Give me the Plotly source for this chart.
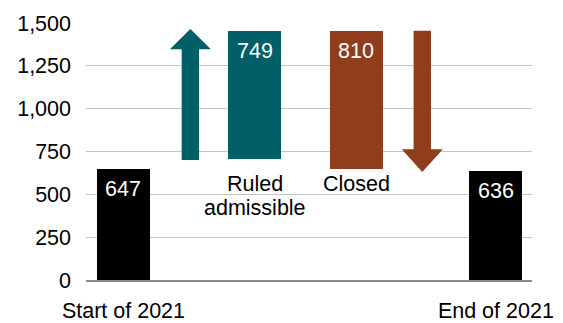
import plotly.graph_objects as go

# Case flow over 2021: opening stock, inflow, outflow, closing stock
categories = ["Start of 2021", "Ruled admissible", "Closed", "End of 2021"]
values = [647, 749, 810, 636]
bases = [0, 706, 645, 0]
y_ticks = [0, 250, 500, 750, 1000, 1250, 1500]

# Layout: horizontal placement on a 0-100 axis, styling
bar_x = [8.4, 37.8, 60.6, 91.9]
bar_w = 11.9
arrow_x = [23.4, 75.4]          # up arrow (inflow), down arrow (outflow)
colors = ["#000000", "#005f67", "#8f3d1d", "#000000"]
FONT = "Liberation Sans, Arial, Helvetica, sans-serif"
FS = 21.5

fig = go.Figure()
fig.add_trace(go.Bar(
    x=bar_x, y=values, base=bases, width=bar_w,
    marker=dict(color=colors, line=dict(width=0)),
    hoverinfo="skip", showlegend=False,
))

# value labels inside the top of each bar
annotations = []
for xi, v, b in zip(bar_x, values, bases):
    annotations.append(dict(
        x=xi, y=b + v, xref="x", yref="y", text=str(v), showarrow=False,
        yanchor="middle", yshift=-20, font=dict(family=FONT, size=FS, color="white"),
    ))

# category labels beneath the floating bars
annotations += [
    dict(x=bar_x[1], y=bases[1], text="Ruled", yshift=-25),
    dict(x=bar_x[1], y=bases[1], text="admissible", yshift=-49),
    dict(x=bar_x[2], y=bases[2], text="Closed", yshift=-15),
]
for a in annotations[-3:]:
    a.update(xref="x", yref="y", showarrow=False, yanchor="middle",
             font=dict(family=FONT, size=FS, color="black"))


def arrow_path(xc, y_from, y_to, head_len=118, head_half=4.6, shaft_half=1.95):
    """Filled block arrow from y_from to y_to (tip at y_to)."""
    d = 1 if y_to > y_from else -1
    yb = y_to - d * head_len
    pts = [
        (xc - shaft_half, y_from), (xc + shaft_half, y_from),
        (xc + shaft_half, yb), (xc + head_half, yb), (xc, y_to),
        (xc - head_half, yb), (xc - shaft_half, yb),
    ]
    return "M " + " L ".join(f"{px},{py}" for px, py in pts) + " Z"


up_from, up_to = bases[1] - 6, bases[1] + values[1] + 10
down_from, down_to = bases[2] + values[2], bases[2] - 14
shapes = [
    dict(type="path", path=arrow_path(arrow_x[0], up_from, up_to), xref="x", yref="y",
         fillcolor=colors[1], line=dict(width=0)),
    dict(type="path", path=arrow_path(arrow_x[1], down_from, down_to, head_len=132),
         xref="x", yref="y", fillcolor=colors[2], line=dict(width=0)),
]

fig.update_layout(
    width=563, height=323,
    margin=dict(l=86, r=31, t=23, b=43),
    paper_bgcolor="white", plot_bgcolor="white",
    font=dict(family=FONT, size=FS, color="black"),
    annotations=annotations, shapes=shapes,
    bargap=0,
)
fig.update_xaxes(
    range=[0, 100], tickvals=[bar_x[0], bar_x[3]],
    ticktext=[categories[0], categories[3]],
    showgrid=False, zeroline=False, ticks="",
    showline=True, linecolor="#8a8a8a", linewidth=1.5,
    ticklabelstandoff=10, automargin=False, fixedrange=True,
)
fig.update_yaxes(
    range=[0, 1500], tickvals=y_ticks, tickformat=",",
    showgrid=True, gridcolor="#c4c4c4", gridwidth=1.2,
    zeroline=False, ticks="", showline=False,
    ticklabelstandoff=14, automargin=False, fixedrange=True,
)

fig.write_html("out.html")
